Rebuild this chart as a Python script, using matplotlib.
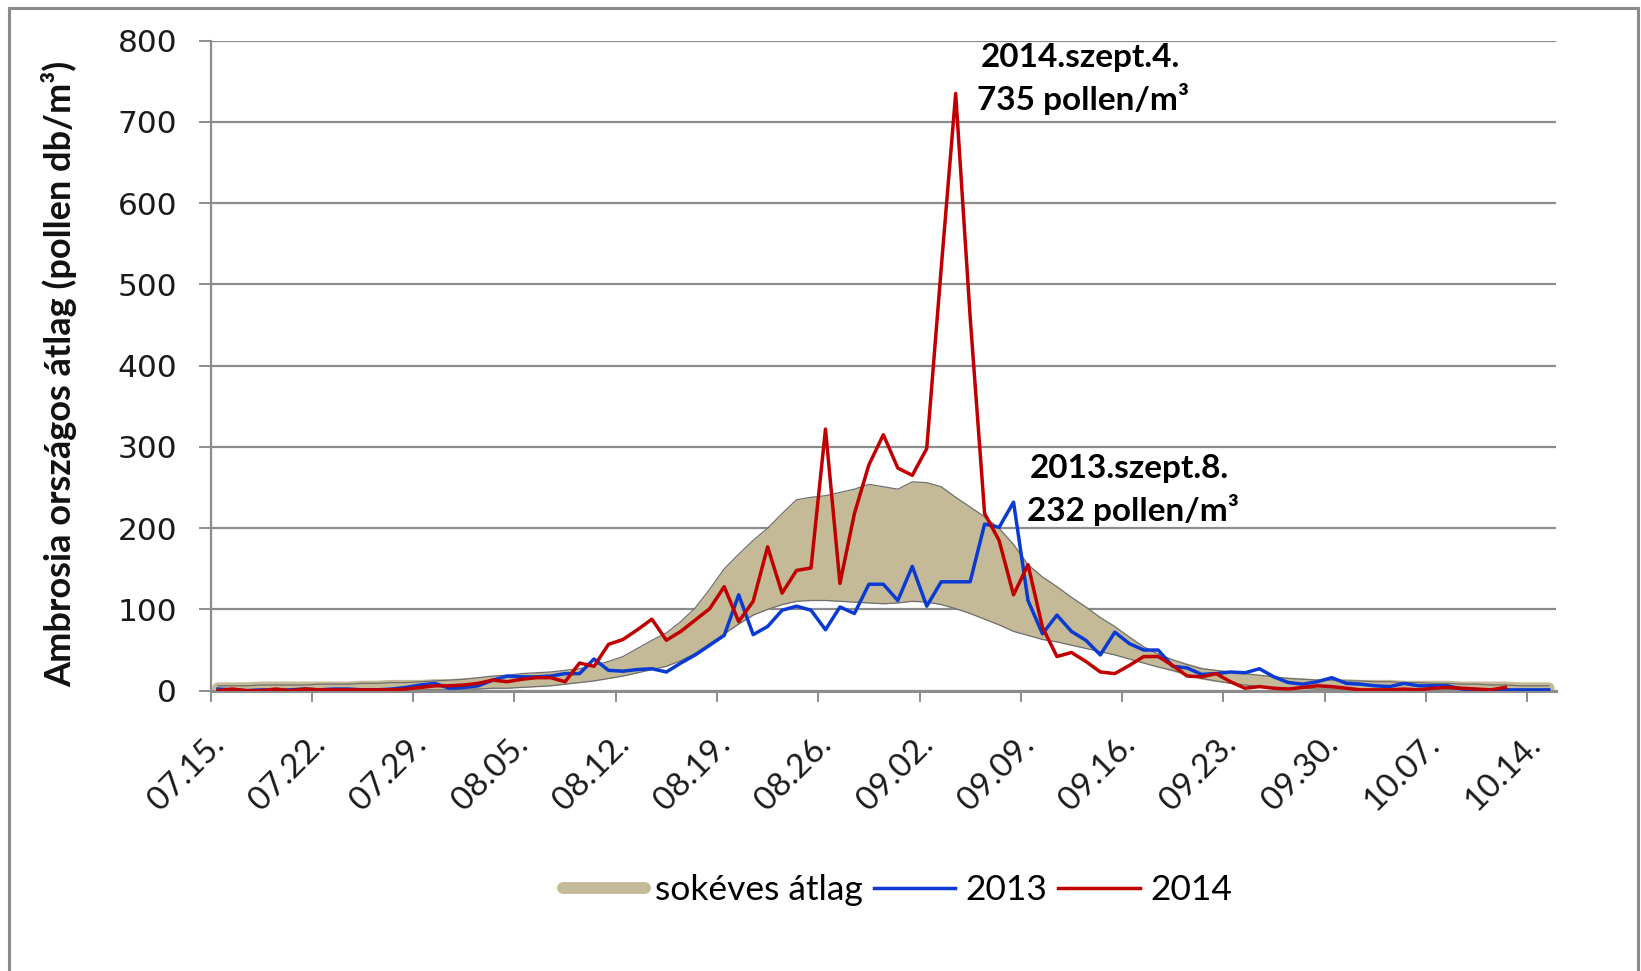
import numpy as np
import pandas as pd
import matplotlib
matplotlib.use('Agg')
import matplotlib.pyplot as plt
from matplotlib.transforms import ScaledTranslation
from matplotlib.patches import Rectangle

# categories: one per day, 07.15 - 10.15
dates = pd.date_range('2014-07-15', '2014-10-15', freq='D')
day_labels = [d.strftime('%m.%d.') for d in dates]

# long-term average band (upper / lower envelope) and its centre line
avg_upper = [6, 6, 6, 7, 7, 7, 7, 8, 8, 8,
             9, 9, 10, 10, 11, 12, 13, 14, 16, 18,
             19, 21, 22, 23, 25, 27, 31, 36, 42, 52,
             62, 71, 85, 102, 125, 150, 168, 185, 200, 218,
             235, 238, 240, 244, 248, 254, 251, 248, 257, 256,
             251, 238, 226, 214, 200, 180, 155, 140, 128, 115,
             103, 90, 79, 66, 54, 45, 38, 32, 27, 25,
             23, 21, 19, 17, 15, 14, 13, 13, 12, 12,
             11, 11, 10, 10, 9, 9, 8, 8, 7, 7,
             6, 6, 6]
avg_lower = [0, 0, 0, 0, 0, 0, 0, 0, 0, 0,
             0, 0, 1, 1, 1, 1, 1, 2, 2, 3,
             3, 4, 5, 6, 8, 10, 12, 15, 18, 22,
             26, 30, 37, 46, 58, 70, 82, 93, 100, 106,
             110, 111, 111, 110, 109, 108, 107, 108, 110, 109,
             106, 101, 95, 88, 81, 73, 68, 63, 60, 56,
             52, 48, 44, 39, 34, 29, 25, 20, 15, 12,
             9, 7, 5, 4, 3, 3, 2, 2, 2, 1,
             1, 1, 1, 1, 1, 1, 1, 1, 1, 1,
             1, 1, 1]
avg_mid = [3, 3, 3, 4, 4, 4, 4, 4, 4, 4,
           5, 5, 6, 6, 6, 7, 7, 8, 9, 10,
           11, 12, 14, 15, 16, 18, 21, 25, 30, 37,
           44, 50, 61, 74, 91, 110, 125, 139, 150, 162,
           172, 174, 175, 177, 178, 181, 179, 178, 183, 182,
           178, 170, 160, 151, 140, 126, 111, 101, 94, 85,
           77, 69, 61, 52, 44, 37, 31, 26, 21, 18,
           16, 14, 12, 10, 9, 8, 7, 7, 7, 6,
           6, 6, 5, 5, 5, 5, 4, 4, 4, 4,
           3, 3, 3]

pollen_2013 = [2, 1, 0, 1, 0, 1, 2, 1, 2, 2,
               1, 1, 2, 4, 7, 9, 3, 4, 6, 13,
               18, 17, 17, 18, 21, 21, 39, 25, 24, 26,
               27, 23, 34, 44, 56, 68, 118, 69, 79, 99,
               104, 99, 75, 103, 95, 131, 131, 111, 153, 104,
               134, 134, 134, 205, 201, 232, 111, 70, 93, 73,
               62, 44, 72, 58, 50, 50, 30, 28, 20, 21,
               23, 22, 27, 17, 10, 8, 11, 16, 9, 8,
               6, 5, 9, 6, 6, 6, 2, 1, 1, 1,
               1, 1, 1]
pollen_2014 = [0, 2, 0, 0, 2, 0, 2, 1, 1, 1,
               1, 1, 1, 2, 4, 6, 6, 7, 9, 13,
               11, 14, 16, 16, 11, 34, 30, 57, 63, 75,
               88, 62, 73, 87, 101, 128, 85, 110, 177, 120,
               148, 151, 322, 132, 218, 278, 315, 274, 265, 298,
               520, 735, 460, 218, 185, 118, 155, 78, 42, 47,
               36, 23, 21, 31, 42, 42, 31, 18, 17, 21,
               11, 3, 5, 3, 2, 4, 6, 5, 3, 1,
               1, 1, 2, 1, 3, 4, 3, 2, 1, 4]

y_ticks = [0, 100, 200, 300, 400, 500, 600, 700, 800]

TAN = '#c4ba97'
BLUE = '#0a3ad2'
RED = '#c00000'
GRID = '#8c8c8c'

x = np.arange(len(dates))

fig = plt.figure(figsize=(16.41, 9.71), dpi=100)
ax = fig.add_axes([0.1284, 0.2887, 0.8198, 0.6694])

# long-term average: thick line + shaded band
avg_line, = ax.plot(x, avg_mid, color=TAN, lw=8.5, solid_capstyle='round',
                    label='sokéves átlag', zorder=2)
ax.fill_between(x, avg_lower, avg_upper, color=TAN, lw=0, zorder=2)
ax.plot(x, avg_upper, color='#6e6e6e', lw=0.9, zorder=2.5)
ax.plot(x, avg_lower, color='#6e6e6e', lw=0.9, zorder=2.5)

l13, = ax.plot(x, pollen_2013, color=BLUE, lw=2.5, label='2013', zorder=3)
l14, = ax.plot(x[:len(pollen_2014)], pollen_2014, color=RED, lw=2.5,
               label='2014', zorder=4)

ax.set_xlim(-0.5, len(dates) - 0.5)
ax.set_ylim(0, 800)
ax.set_yticks(y_ticks)
ax.yaxis.grid(True, color=GRID, lw=1.6)
ax.set_axisbelow(True)

for s in ['top', 'right']:
    ax.spines[s].set_visible(False)
ax.spines['left'].set_color(GRID)
ax.spines['left'].set_linewidth(1.6)
ax.spines['bottom'].set_color(GRID)
ax.spines['bottom'].set_linewidth(2.2)

ax.tick_params(axis='y', length=9, width=1.4, color=GRID, pad=15,
               labelsize=22.5, labelcolor='#1a1a1a')
for lab in ax.get_yticklabels():
    lab.set_family('DejaVu Sans')

# x ticks at category boundaries, one label a week
week_idx = list(range(0, len(dates), 7))
ax.set_xticks([i - 0.5 for i in week_idx])
ax.set_xticklabels([day_labels[i] for i in week_idx], rotation=45,
                   ha='right', va='baseline', rotation_mode='anchor',
                   fontsize=24, family='Lato', color='#1a1a1a')
ax.tick_params(axis='x', length=8, width=1.4, color=GRID, pad=32)
offset = ScaledTranslation(0.15, 0, fig.dpi_scale_trans)
for lab in ax.get_xticklabels():
    lab.set_transform(lab.get_transform() + offset)

ax.set_ylabel('Ambrosia országos átlag (pollen db/m³)', fontsize=26,
              fontweight='bold', family='Lato', color='#111111')
ax.yaxis.set_label_coords(-0.099, 0.487)

# peak annotations
ax.text(52.7, 779, '2014.szept.4.', fontsize=24, fontweight='bold',
        family='Lato', va='center', ha='left')
ax.text(52.5, 728, '735 pollen/m³', fontsize=24, fontweight='bold',
        family='Lato', va='center', ha='left')
ax.text(56.1, 274, '2013.szept.8.', fontsize=24, fontweight='bold',
        family='Lato', va='center', ha='left')
ax.text(55.9, 222, '232 pollen/m³', fontsize=24, fontweight='bold',
        family='Lato', va='center', ha='left')

fig.legend(handles=[avg_line, l13, l14], loc='center',
           bbox_to_anchor=(0.547, 0.083), ncol=3, frameon=False,
           prop={'family': 'Lato', 'size': 25.5}, handlelength=2.3,
           handletextpad=0.3, columnspacing=0.3)

# outer frame of the chart area
fig.patches.append(Rectangle((9 / 1641, -0.05), (1638 - 9) / 1641,
                             1.05 - 8 / 971, transform=fig.transFigure,
                             fill=False, edgecolor='#8a8a8a', lw=2.2))

fig.savefig('out.png', dpi=100)
